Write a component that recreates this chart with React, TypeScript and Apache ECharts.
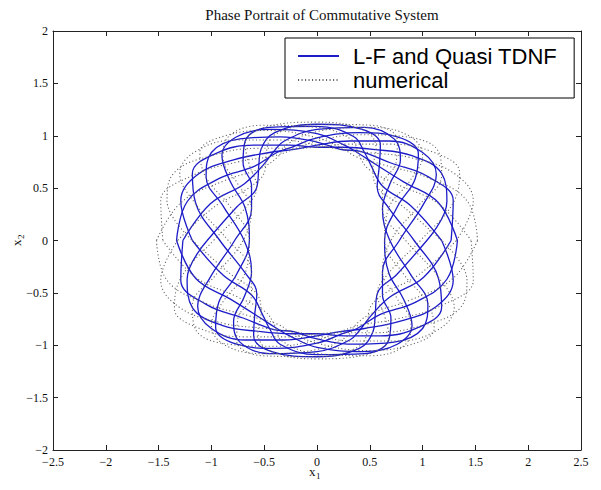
import { useEffect, useRef } from 'react';
import * as echarts from 'echarts';

type Pt = [number, number];

const chartTitle = 'Phase Portrait of Commutative System';
const seriesNames = ['L-F and Quasi TDNF', 'numerical'];
const xRange = [-2.5, 2.5];
const yRange = [-2, 2];
const tickStep = 0.5;

// L-F and Quasi TDNF trajectory, read loop by loop from the picture
const lf1: Pt[] = [[1.04,0],[1.23,0.37],[1.18,0.64],[0.90,0.81],[0.53,0.87],[0.24,0.89],[0,0.89],[-0.26,0.91],[-0.60,0.91],[-0.96,0.83],[-1.18,0.64],[-1.15,0.36],[-0.92,0],[-0.68,-0.31],[-0.57,-0.51],[-0.59,-0.71],[-0.60,-0.91],[-0.43,-1.06],[0,-1.11],[0.40,-1.03],[0.53,-0.87],[0.55,-0.73],[0.57,-0.51],[0.76,-0.32],[1.04,0]];
const lf2: Pt[] = [[1.27,0],[1.29,0.38],[1.05,0.61],[0.70,0.74],[0.41,0.85],[0.22,0.87],[0,0.94],[-0.35,0.99],[-0.73,0.97],[-1.00,0.84],[-1.05,0.61],[-0.89,0.33],[-0.69,0],[-0.62,-0.30],[-0.69,-0.54],[-0.79,-0.77],[-0.73,-0.97],[-0.45,-1.08],[0,-1.06],[0.31,-0.95],[0.41,-0.85],[0.51,-0.72],[0.69,-0.54],[1.01,-0.35],[1.27,0]];
const lf3: Pt[] = [[1.33,0],[1.15,0.36],[0.82,0.56],[0.55,0.73],[0.38,0.84],[0.26,0.91],[0,1.02],[-0.43,1.06],[-0.76,0.99],[-0.90,0.81],[-0.82,0.56],[-0.68,0.31],[-0.64,0],[-0.76,-0.32],[-0.93,-0.59],[-0.96,-0.83],[-0.76,-0.99],[-0.40,-1.03],[0,-0.98],[0.24,-0.89],[0.38,-0.84],[0.59,-0.71],[0.93,-0.59],[1.23,-0.37],[1.33,0]];
const lf4: Pt[] = [[1.18,0],[0.89,0.33],[0.62,0.52],[0.51,0.72],[0.45,0.84],[0.35,0.99],[0,1.09],[-0.45,1.08],[-0.68,0.95],[-0.70,0.74],[-0.62,0.52],[-0.62,0.30],[-0.78,0],[-1.01,-0.35],[-1.13,-0.63],[-1.00,-0.84],[-0.68,-0.95],[-0.31,-0.95],[0,-0.91],[0.22,-0.87],[0.45,-0.84],[0.79,-0.77],[1.13,-0.63],[1.29,-0.38],[1.18,0]];
const lf5: Pt[] = [[-1.04,0],[-1.23,-0.37],[-1.18,-0.64],[-0.90,-0.81],[-0.53,-0.87],[-0.24,-0.89],[0,-0.89],[0.26,-0.91],[0.60,-0.91],[0.96,-0.83],[1.18,-0.64],[1.15,-0.36],[0.92,0],[0.68,0.31],[0.57,0.51],[0.59,0.71],[0.60,0.91],[0.43,1.06],[0,1.11],[-0.40,1.03],[-0.53,0.87],[-0.55,0.73],[-0.57,0.51],[-0.76,0.32],[-1.04,0]];
const lf6: Pt[] = [[-1.27,0],[-1.29,-0.38],[-1.05,-0.61],[-0.70,-0.74],[-0.41,-0.85],[-0.22,-0.87],[0,-0.94],[0.35,-0.99],[0.73,-0.97],[1.00,-0.84],[1.05,-0.61],[0.89,-0.33],[0.69,0],[0.62,0.30],[0.69,0.54],[0.79,0.77],[0.73,0.97],[0.45,1.08],[0,1.06],[-0.31,0.95],[-0.41,0.85],[-0.51,0.72],[-0.69,0.54],[-1.01,0.35],[-1.27,0]];
const lf7: Pt[] = [[-1.33,0],[-1.15,-0.36],[-0.82,-0.56],[-0.55,-0.73],[-0.38,-0.84],[-0.26,-0.91],[0,-1.02],[0.43,-1.06],[0.76,-0.99],[0.90,-0.81],[0.82,-0.56],[0.68,-0.31],[0.64,0],[0.76,0.32],[0.93,0.59],[0.96,0.83],[0.76,0.99],[0.40,1.03],[0,0.98],[-0.24,0.89],[-0.38,0.84],[-0.59,0.71],[-0.93,0.59],[-1.23,0.37],[-1.33,0]];
const lf8: Pt[] = [[-1.18,0],[-0.89,-0.33],[-0.62,-0.52],[-0.51,-0.72],[-0.45,-0.84],[-0.35,-0.99],[0,-1.09],[0.45,-1.08],[0.68,-0.95],[0.70,-0.74],[0.62,-0.52],[0.62,-0.30],[0.78,0],[1.01,0.35],[1.13,0.63],[1.00,0.84],[0.68,0.95],[0.31,0.95],[0,0.91],[-0.22,0.87],[-0.45,0.84],[-0.79,0.77],[-1.13,0.63],[-1.29,0.38],[-1.18,0]];

// numerical trajectory (dotted), read loop by loop from the picture
const num1: Pt[] = [[1.32,0],[1.48,0.38],[1.30,0.64],[0.89,0.79],[0.48,0.84],[0.22,0.87],[0,0.91],[-0.33,0.96],[-0.76,0.96],[-1.15,0.85],[-1.30,0.64],[-1.15,0.35],[-0.84,0],[-0.62,-0.30],[-0.62,-0.52],[-0.75,-0.75],[-0.76,-0.96],[-0.52,-1.10],[0,-1.11],[0.40,-1.01],[0.48,-0.84],[0.49,-0.68],[0.62,-0.52],[0.96,-0.33],[1.32,0]];
const num2: Pt[] = [[1.52,0],[1.42,0.38],[1.05,0.60],[0.64,0.72],[0.37,0.80],[0.24,0.88],[0,0.98],[-0.45,1.05],[-0.87,1.00],[-1.11,0.84],[-1.05,0.60],[-0.82,0.32],[-0.64,0],[-0.68,-0.31],[-0.88,-0.57],[-1.00,-0.81],[-0.87,-1.00],[-0.50,-1.08],[0,-1.04],[0.28,-0.92],[0.37,-0.80],[0.53,-0.69],[0.88,-0.57],[1.29,-0.36],[1.52,0]];
const num3: Pt[] = [[1.46,0],[1.15,0.35],[0.75,0.54],[0.49,0.68],[0.40,0.81],[0.33,0.96],[0,1.08],[-0.52,1.10],[-0.84,0.99],[-0.89,0.79],[-0.75,0.54],[-0.62,0.30],[-0.70,0],[-0.96,-0.33],[-1.18,-0.62],[-1.15,-0.85],[-0.84,-0.99],[-0.40,-1.01],[0,-0.95],[0.22,-0.87],[0.40,-0.81],[0.75,-0.75],[1.18,-0.62],[1.48,-0.38],[1.46,0]];
const num4: Pt[] = [[1.18,0],[0.82,0.32],[0.57,0.51],[0.53,0.69],[0.56,0.88],[0.45,1.05],[0,1.13],[-0.50,1.08],[-0.68,0.92],[-0.64,0.72],[-0.57,0.51],[-0.68,0.31],[-0.98,0],[-1.29,-0.36],[-1.35,-0.65],[-1.11,-0.84],[-0.68,-0.92],[-0.28,-0.92],[0,-0.89],[0.24,-0.88],[0.56,-0.88],[1.00,-0.81],[1.35,-0.65],[1.42,-0.38],[1.18,0]];
const num5: Pt[] = [[-1.32,0],[-1.48,-0.38],[-1.30,-0.64],[-0.89,-0.79],[-0.48,-0.84],[-0.22,-0.87],[0,-0.91],[0.33,-0.96],[0.76,-0.96],[1.15,-0.85],[1.30,-0.64],[1.15,-0.35],[0.84,0],[0.62,0.30],[0.62,0.52],[0.75,0.75],[0.76,0.96],[0.52,1.10],[0,1.11],[-0.40,1.01],[-0.48,0.84],[-0.49,0.68],[-0.62,0.52],[-0.96,0.33],[-1.32,0]];
const num6: Pt[] = [[-1.52,0],[-1.42,-0.38],[-1.05,-0.60],[-0.64,-0.72],[-0.37,-0.80],[-0.24,-0.88],[0,-0.98],[0.45,-1.05],[0.87,-1.00],[1.11,-0.84],[1.05,-0.60],[0.82,-0.32],[0.64,0],[0.68,0.31],[0.88,0.57],[1.00,0.81],[0.87,1.00],[0.50,1.08],[0,1.04],[-0.28,0.92],[-0.37,0.80],[-0.53,0.69],[-0.88,0.57],[-1.29,0.36],[-1.52,0]];
const num7: Pt[] = [[-1.46,0],[-1.15,-0.35],[-0.75,-0.54],[-0.49,-0.68],[-0.40,-0.81],[-0.33,-0.96],[0,-1.08],[0.52,-1.10],[0.84,-0.99],[0.89,-0.79],[0.75,-0.54],[0.62,-0.30],[0.70,0],[0.96,0.33],[1.18,0.62],[1.15,0.85],[0.84,0.99],[0.40,1.01],[0,0.95],[-0.22,0.87],[-0.40,0.81],[-0.75,0.75],[-1.18,0.62],[-1.48,0.38],[-1.46,0]];
const num8: Pt[] = [[-1.18,0],[-0.82,-0.32],[-0.57,-0.51],[-0.53,-0.69],[-0.56,-0.88],[-0.45,-1.05],[0,-1.13],[0.50,-1.08],[0.68,-0.92],[0.64,-0.72],[0.57,-0.51],[0.68,-0.31],[0.98,0],[1.29,0.36],[1.35,0.65],[1.11,0.84],[0.68,0.92],[0.28,0.92],[0,0.89],[-0.24,0.88],[-0.56,0.88],[-1.00,0.81],[-1.35,0.65],[-1.42,0.38],[-1.18,0]];

const lfLoops = [lf1, lf2, lf3, lf4, lf5, lf6, lf7, lf8];
const numLoops = [num1, num2, num3, num4, num5, num6, num7, num8];

const BLUE = '#1c1cc8';
const GRAY = '#666666';
const AXIS = '#222';
const SERIF = '"Liberation Serif", "Times New Roman", serif';
const SANS = '"Liberation Sans", Arial, sans-serif';

const fmt = (v: number) => String(v).replace('-', '\u2212');

function makeAxis(kind: 'x' | 'y', position: string, labels: boolean) {
  const range = kind === 'x' ? xRange : yRange;
  return {
    type: 'value',
    position,
    min: range[0],
    max: range[1],
    interval: tickStep,
    axisLine: { show: true, onZero: false, lineStyle: { color: AXIS, width: 1 } },
    axisTick: { show: true, inside: true, length: 5, lineStyle: { color: AXIS, width: 1 } },
    axisLabel: {
      show: labels,
      formatter: fmt,
      fontFamily: SERIF,
      fontSize: 12,
      color: '#111',
      margin: kind === 'x' ? 6 : 5,
    },
    splitLine: { show: false },
  };
}

export default function App() {
  const ref = useRef<HTMLDivElement>(null);
  useEffect(() => {
    if (!ref.current) return;
    const chart = echarts.init(ref.current, undefined, { renderer: 'svg' });
    const series: any[] = [];
    lfLoops.forEach((loop) => {
      series.push({
        name: seriesNames[0],
        type: 'line',
        data: loop,
        smooth: 0.4,
        symbol: 'none',
        xAxisIndex: 0,
        yAxisIndex: 0,
        itemStyle: { color: BLUE },
        lineStyle: { color: BLUE, width: 1.3 },
      });
    });
    numLoops.forEach((loop) => {
      series.push({
        name: seriesNames[1],
        type: 'line',
        data: loop,
        smooth: 0.4,
        symbol: 'none',
        xAxisIndex: 0,
        yAxisIndex: 0,
        itemStyle: { color: GRAY },
        lineStyle: { color: GRAY, width: 1.1, type: [1.1, 2.4] },
      });
    });
    chart.setOption({
      animation: false,
      backgroundColor: '#fff',
      title: {
        text: chartTitle,
        left: 317,
        top: 2,
        textAlign: 'center',
        textStyle: { fontFamily: SERIF, fontSize: 15, fontWeight: 'normal', color: '#111' },
      },
      grid: { left: 53, right: 20, top: 31, bottom: 40, containLabel: false },
      xAxis: [makeAxis('x', 'bottom', true), makeAxis('x', 'top', false)],
      yAxis: [makeAxis('y', 'left', true), makeAxis('y', 'right', false)],
      legend: {
        orient: 'vertical',
        left: 285,
        top: 38,
        data: seriesNames,
        itemWidth: 41,
        itemHeight: 10,
        itemGap: 0,
        padding: [6, 17, 6, 12],
        borderColor: '#000',
        borderWidth: 1,
        backgroundColor: '#fff',
        selectedMode: false,
        itemStyle: { opacity: 0 },
        textStyle: { fontFamily: SANS, fontSize: 22, color: '#000', lineHeight: 24, padding: [0, 0, 0, 9] },
      },
      graphic: [
        {
          type: 'group',
          left: 309,
          top: 465,
          children: [
            { type: 'text', x: 0, y: 0, style: { text: 'x', font: `13px ${SERIF}`, fill: '#111' } },
            { type: 'text', x: 7, y: 6, style: { text: '1', font: `9px ${SERIF}`, fill: '#111' } },
          ],
        },
        {
          type: 'group',
          x: 10,
          y: 246,
          rotation: Math.PI / 2,
          children: [
            { type: 'text', x: 0, y: 0, style: { text: 'x', font: `13px ${SERIF}`, fill: '#111' } },
            { type: 'text', x: 7, y: 6, style: { text: '2', font: `9px ${SERIF}`, fill: '#111' } },
          ],
        },
      ],
      series,
    });
    return () => chart.dispose();
  }, []);
  return <div ref={ref} style={{ position: 'fixed', left: 0, top: 0, width: 601, height: 490 }} />;
}
